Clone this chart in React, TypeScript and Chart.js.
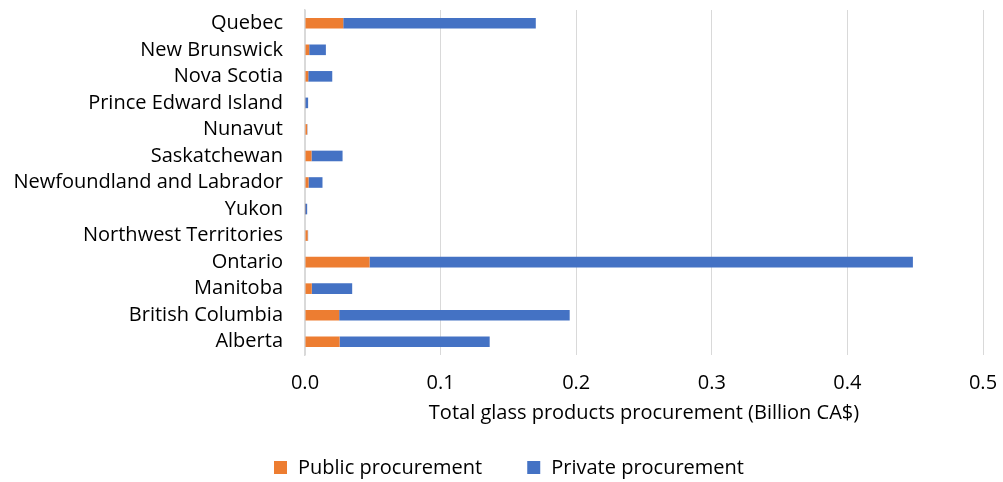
import React, { useEffect, useRef } from "react";
import { Chart, registerables } from "chart.js";

Chart.register(...registerables);

const categories = [
  "Quebec",
  "New Brunswick",
  "Nova Scotia",
  "Prince Edward Island",
  "Nunavut",
  "Saskatchewan",
  "Newfoundland and Labrador",
  "Yukon",
  "Northwest Territories",
  "Ontario",
  "Manitoba",
  "British Columbia",
  "Alberta",
];

const publicProcurement = [
  0.0282, 0.0031, 0.0024, 0.0003, 0.0016, 0.0048, 0.0026, 0.0002, 0.002, 0.0476, 0.005, 0.0252, 0.0255,
];

const privateProcurement = [
  0.142, 0.0123, 0.0177, 0.002, 0.0002, 0.0229, 0.0103, 0.0014, 0.0003, 0.4007, 0.0298, 0.17, 0.1107,
];

const xTicks = [0, 0.1, 0.2, 0.3, 0.4, 0.5];

const FONT = "'Open Sans', sans-serif";
const FONT_SIZE = 20;

const legendPlugin = {
  id: "customLegend",
  afterDraw(chart: any) {
    const ctx = chart.ctx;
    const items = chart.data.datasets.map((d: any) => ({ text: d.label, color: d.backgroundColor }));
    ctx.save();
    ctx.font = `${FONT_SIZE}px ${FONT}`;
    const box = 13;
    const textGap = 11;
    const itemGap = 45;
    const widths = items.map((it: any) => box + textGap + ctx.measureText(it.text).width);
    const total = widths.reduce((a: number, b: number) => a + b, 0) + itemGap * (items.length - 1);
    let x = Math.round(509 - total / 2);
    const y = 467;
    ctx.textBaseline = "middle";
    ctx.textAlign = "left";
    items.forEach((it: any, i: number) => {
      ctx.fillStyle = it.color;
      ctx.fillRect(x, y - 6, box, box);
      ctx.fillStyle = "#000";
      ctx.fillText(it.text, x + box + textGap, y + 1);
      x += widths[i] + itemGap;
    });
    ctx.restore();
  },
};

export default function App() {
  const ref = useRef<HTMLCanvasElement | null>(null);

  useEffect(() => {
    if (!ref.current) return;
    const chart = new Chart(ref.current, {
      type: "bar",
      data: {
        labels: categories,
        datasets: [
          {
            label: "Public procurement",
            data: publicProcurement,
            backgroundColor: "#ED7D31",
            borderWidth: 0,
            categoryPercentage: 0.4,
            barPercentage: 1,
          },
          {
            label: "Private procurement",
            data: privateProcurement,
            backgroundColor: "#4472C4",
            borderWidth: 0,
            categoryPercentage: 0.4,
            barPercentage: 1,
          },
        ],
      },
      plugins: [legendPlugin],
      options: {
        indexAxis: "y",
        animation: false,
        responsive: false,
        maintainAspectRatio: false,
        layout: { padding: { left: 0, right: 20, top: 0, bottom: 57 } },
        plugins: {
          legend: { display: false },
          tooltip: { enabled: false },
        },
        scales: {
          x: {
            stacked: true,
            min: 0,
            max: 0.5,
            afterBuildTicks: (scale: any) => {
              scale.ticks = xTicks.map((v) => ({ value: v }));
            },
            ticks: {
              color: "#000",
              font: { family: FONT, size: FONT_SIZE },
              padding: 0,
              maxRotation: 0,
              callback: (v: any) => Number(v).toFixed(1),
            },
            grid: {
              color: "#D9D9D9",
              drawTicks: true,
              tickLength: 16,
              tickColor: "rgba(0,0,0,0)",
              lineWidth: 1,
            },
            border: { display: false },
            title: {
              display: true,
              text: "Total glass products procurement (Billion CA$)",
              color: "#000",
              font: { family: FONT, size: FONT_SIZE },
              padding: { top: 6, bottom: 0 },
            },
          },
          y: {
            stacked: true,
            afterFit: (scale: any) => {
              scale.width = 305;
            },
            ticks: {
              color: "#000",
              font: { family: FONT, size: FONT_SIZE, lineHeight: 1 },
              padding: 0,
              autoSkip: false,
            },
            grid: { display: false, drawTicks: true, tickLength: 22 },
            border: { display: true, color: "#D9D9D9", width: 1.5 },
          },
        },
      },
    });
    return () => chart.destroy();
  }, []);

  return (
    <div style={{ position: "fixed", left: 0, top: 0, width: 1003, height: 482, background: "#fff" }}>
      <canvas ref={ref} width={1003} height={482} />
    </div>
  );
}
